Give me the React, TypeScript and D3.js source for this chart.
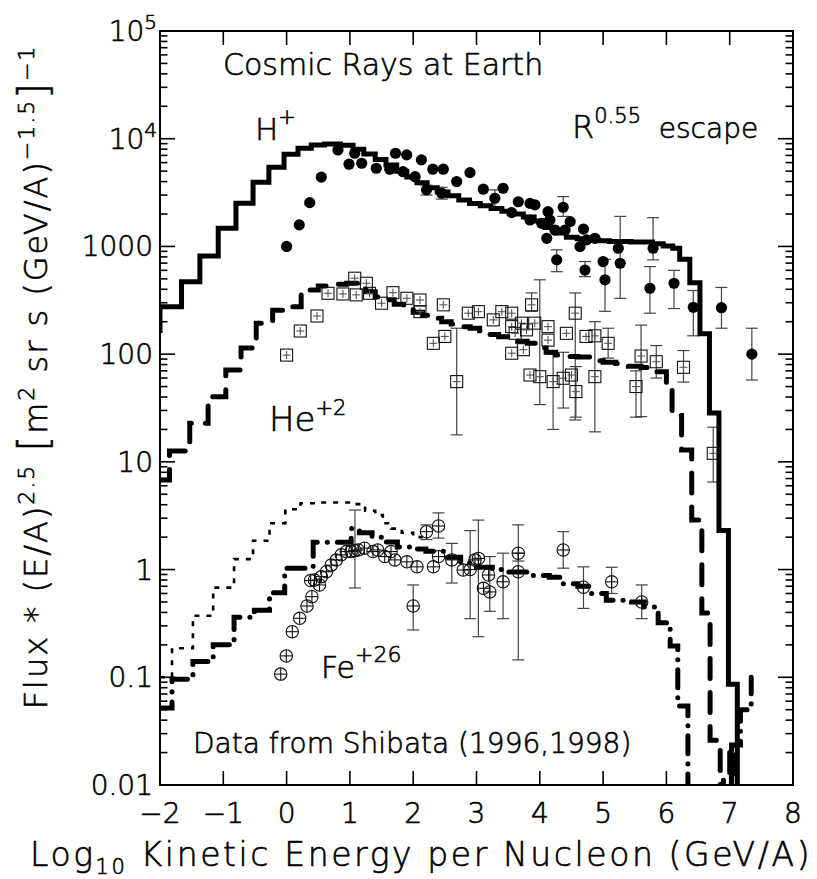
import * as d3 from 'd3'

type Step = [number, number]
type Pt = [number, number, number?, number?]

// model curves (log10 E/A, flux*E^2.5), drawn as step histograms
const hModel: Step[] = [
  [-2.0, 157], [-2.0, 276], [-1.66, 471], [-1.37, 817], [-1.08, 1476], [-0.8, 2518], [-0.53, 3947],
  [-0.28, 5433], [-0.04, 7180], [0.18, 8160], [0.39, 8750], [0.6, 8950], [0.85, 8700], [1.05, 8000],
  [1.22, 7200], [1.4, 6400], [1.57, 5700], [1.74, 5000], [1.9, 4400], [2.06, 3900], [2.22, 3500],
  [2.38, 3200], [2.55, 2950], [2.72, 2700], [2.89, 2500], [3.06, 2380], [3.23, 2250], [3.4, 2120],
  [3.57, 2000], [3.74, 1880], [3.91, 1720], [4.08, 1500], [4.25, 1330], [4.42, 1220], [4.59, 1180],
  [4.76, 1150], [4.93, 1130], [5.1, 1110], [5.27, 1110], [5.44, 1100], [5.61, 1100], [5.78, 1060],
  [5.95, 1010], [6.1, 960], [6.21, 760], [6.37, 460], [6.53, 155], [6.68, 28.4], [6.83, 2.31],
  [6.98, 0.086], [7.12, 0.001],
]

const heModel: Step[] = [
  [-2.0, 6.8], [-1.85, 12.6], [-1.53, 22.8], [-1.24, 40.3], [-0.96, 71.3], [-0.72, 114], [-0.48, 194],
  [-0.22, 255], [0.0, 276], [0.23, 394], [0.5, 430], [0.7, 445], [0.95, 455], [1.12, 420], [1.25, 380],
  [1.4, 340], [1.55, 320], [1.7, 290], [1.85, 265], [2.0, 245], [2.15, 230], [2.3, 215], [2.45, 200],
  [2.6, 190], [2.75, 180], [2.9, 174], [3.05, 165], [3.2, 152], [3.35, 145], [3.5, 140], [3.65, 132],
  [3.8, 126], [3.95, 114], [4.1, 104], [4.25, 98], [4.4, 95], [4.6, 94], [4.8, 87], [5.0, 84],
  [5.2, 82], [5.4, 77], [5.6, 75], [5.82, 68.7], [6.0, 52], [6.09, 27], [6.24, 12.9], [6.4, 2.89],
  [6.56, 0.395], [6.69, 0.026], [6.85, 0.001], [6.9, 0.013], [7.0, 0.022], [7.05, 0.001],
]

const feModel: Step[] = [
  [-2.0, 0.052], [-1.81, 0.096], [-1.48, 0.14], [-1.16, 0.2], [-0.83, 0.36], [-0.51, 0.42],
  [-0.27, 0.61], [-0.03, 1.03], [0.42, 1.79], [1.02, 2.4], [1.15, 2.2], [1.35, 2.0], [1.55, 1.8],
  [1.75, 1.62], [1.95, 1.55], [2.2, 1.48], [2.5, 1.3], [2.75, 1.15], [3.0, 1.05], [3.25, 1.0],
  [3.5, 0.95], [3.8, 0.88], [4.15, 0.85], [4.35, 0.74], [4.6, 0.7], [4.8, 0.6], [5.05, 0.52],
  [5.45, 0.5], [5.65, 0.45], [5.87, 0.32], [6.06, 0.195], [6.18, 0.054], [6.34, 0.001],
  [7.03, 0.0235], [7.17, 0.05], [7.34, 0.1],
]

// thin dotted Fe curve
const feDotted: Step[] = [
  [-2.0, 0.1], [-1.81, 0.186], [-1.48, 0.373], [-1.16, 0.68], [-0.83, 1.25], [-0.53, 1.85],
  [-0.27, 2.69], [-0.02, 3.63], [0.22, 4.13], [0.45, 4.2], [0.8, 4.2], [1.05, 4.05], [1.24, 3.52],
  [1.4, 3.21], [1.52, 2.69], [1.65, 2.4], [1.82, 2.2], [2.0, 2.0], [2.15, 2.0],
]

// Shibata data: [x, y, errLow, errHigh]
const hData: Pt[] = [
  [0.0, 1000], [0.2, 1585], [0.365, 2550], [0.548, 4400], [0.812, 7870], [0.986, 5800], [1.076, 7330],
  [1.186, 5920], [1.417, 5320], [1.63, 5210], [1.72, 7330], [1.84, 4940], [1.897, 7080], [2.03, 4440],
  [2.13, 6360], [2.21, 3350, 3000, 3700], [2.31, 5210], [2.45, 3120, 2750, 3540], [2.476, 5210],
  [2.687, 4000], [2.897, 4840], [3.108, 3400], [3.29, 2800, 2280, 3350], [3.42, 3470], [3.556, 2060],
  [3.66, 2600], [3.845, 2510], [3.924, 2430], [3.845, 1760], [4.03, 1640], [4.13, 2100], [4.16, 1760],
  [4.24, 1420], [4.11, 1190], [4.37, 2310, 1900, 2900], [4.4, 1420], [4.48, 1700], [4.69, 1450],
  [4.635, 995], [4.74, 1150], [4.87, 1190], [4.267, 750, 583, 930], [4.714, 603, 524, 724],
  [5.0, 724], [5.03, 490, 250, 760], [5.24, 962], [5.27, 698, 330, 1900], [5.79, 962, 750, 1850],
  [5.74, 409, 240, 650], [6.12, 455, 265, 600], [6.425, 272, 148, 390], [6.87, 270, 174, 416],
  [7.35, 100, 57.5, 174],
]

const heData: Pt[] = [
  [0.0, 98], [0.216, 164], [0.48, 226], [0.654, 367], [0.89, 362], [1.076, 507], [1.1, 355],
  [1.26, 455], [1.31, 367], [1.5, 297], [1.68, 372], [1.9, 330], [2.107, 318], [2.107, 248],
  [2.318, 126], [2.476, 287], [2.5, 146], [2.687, 55.6, 17.8, 174], [2.87, 240], [3.03, 248],
  [3.265, 208], [3.4, 248], [3.556, 240], [3.87, 287, 250, 370], [3.556, 180], [3.71, 194],
  [3.79, 168], [3.61, 156], [3.92, 194], [4.13, 180], [4.13, 135], [3.556, 102], [3.74, 110],
  [3.845, 64], [4.0, 61.8, 34, 490], [4.21, 55.6, 20, 100], [4.37, 59.7, 31.6, 104], [4.5, 64],
  [4.57, 44.9, 26, 76.6], [4.42, 156], [4.56, 240, 24.5, 370], [4.73, 146], [4.87, 61.8, 19, 200],
  [4.87, 148], [5.08, 126, 92, 174], [5.6, 96, 26.3, 186], [5.52, 50, 26, 70], [5.84, 85, 60, 120],
  [6.27, 75.5, 55, 108], [6.74, 12, 6.5, 21],
]

const feData: Pt[] = [
  [-0.093, 0.107], [-0.005, 0.158], [0.09, 0.265], [0.207, 0.353], [0.322, 0.459], [0.4, 0.56],
  [0.38, 0.79], [0.44, 0.8], [0.52, 0.72], [0.55, 0.86], [0.63, 0.955], [0.706, 1.1], [0.785, 1.23],
  [0.864, 1.37], [0.943, 1.47], [1.02, 1.47], [1.08, 1.5, 0.675, 3.57], [1.13, 1.52], [1.23, 1.58],
  [1.365, 1.47], [1.44, 1.52], [1.55, 1.32], [1.65, 1.47], [1.71, 1.23], [1.9, 1.18], [2.06, 1.06],
  [2.0, 0.459, 0.275, 0.72], [2.21, 2.25, 1.9, 2.6], [2.4, 2.54, 1.96, 3.36], [2.32, 1.06], [2.4, 1.32],
  [2.61, 1.23, 0.75, 1.75], [2.79, 0.99], [2.9, 1.0, 0.35, 2.3], [2.976, 1.23], [3.03, 1.27, 0.238, 2.88],
  [3.19, 0.89], [3.11, 0.67], [3.21, 0.62, 0.41, 1.32], [3.42, 0.77, 0.35, 1.42], [3.66, 1.42, 1.2, 2.6],
  [3.66, 0.955, 0.145, 1.42], [4.37, 1.52, 1.03, 2.25], [4.69, 0.686, 0.436, 1.06],
  [5.135, 0.77, 0.6, 1.05], [5.61, 0.5, 0.35, 0.72],
]

const xTicks = [-2, -1, 0, 1, 2, 3, 4, 5, 6, 7, 8]
const xTickLabels = ['\u22122', '\u22121', '0', '1', '2', '3', '4', '5', '6', '7', '8']
const yTicks = [0.01, 0.1, 1, 10, 100, 1000, 1e4, 1e5]
const yTickLabels = ['0.01', '0.1', '1', '10', '100', '1000', '10', '10']
const yTickSups = ['', '', '', '', '', '', '4', '5']

const FONT = '"DejaVu Sans", "Liberation Sans", sans-serif'

export default function App() {
  const x = d3.scaleLinear().domain([-2, 8]).range([160, 793])
  const y = d3.scaleLog().domain([0.01, 1e5]).range([785, 31])
  const [x0, x1] = x.range()
  const [y0, y1] = y.range()

  const step = d3.line<Step>()
    .x(d => x(d[0]))
    .y(d => y(Math.max(d[1], 1e-3)))
    .curve(d3.curveStepAfter)

  const minorTicks: number[] = []
  yTicks.slice(0, -1).forEach(t => {
    for (let k = 2; k <= 9; k++) minorTicks.push(t * k)
  })

  const errBar = (d: Pt, i: number) => {
    if (d[2] == null || d[3] == null) return null
    const cx = x(d[0]), lo = y(d[2]), hi = y(d[3])
    return (
      <g key={'e' + i} stroke="#444" strokeWidth={1.2}>
        <line x1={cx} x2={cx} y1={lo} y2={hi} />
        <line x1={cx - 6} x2={cx + 6} y1={lo} y2={lo} />
        <line x1={cx - 6} x2={cx + 6} y1={hi} y2={hi} />
      </g>
    )
  }

  return (
    <svg width={817} height={879} style={{ position: 'absolute', left: 0, top: 0, background: '#fff' }}
      fontFamily={FONT} fontWeight={200}>
      <defs>
        <clipPath id="plot">
          <rect x={x0} y={y1} width={x1 - x0} height={y0 - y1} />
        </clipPath>
      </defs>

      <g clipPath="url(#plot)">
        {[...hData, ...heData, ...feData].map(errBar)}

        <path d={step(feDotted)!} fill="none" stroke="#000" strokeWidth={2.6} strokeDasharray="5 7" />
        <path d={step(hModel)!} fill="none" stroke="#000" strokeWidth={5} strokeLinejoin="miter" />
        <path d={step(heModel)!} fill="none" stroke="#000" strokeWidth={5} strokeLinecap="round"
          strokeDasharray="20 14" />
        <path d={step(feModel)!} fill="none" stroke="#000" strokeWidth={5} strokeLinecap="round"
          strokeDasharray="18 10 0.1 10" />

        {hData.map((d, i) => (
          <circle key={'h' + i} cx={x(d[0])} cy={y(d[1])} r={5.6} fill="#000" />
        ))}
        {heData.map((d, i) => {
          const cx = x(d[0]), cy = y(d[1])
          return (
            <g key={'he' + i} stroke="#111" strokeWidth={1.1} fill="none">
              <rect x={cx - 6} y={cy - 6} width={12} height={12} />
              <line x1={cx - 4} x2={cx + 4} y1={cy} y2={cy} stroke="#555" />
              <line x1={cx} x2={cx} y1={cy - 4} y2={cy + 4} stroke="#555" />
            </g>
          )
        })}
        {feData.map((d, i) => {
          const cx = x(d[0]), cy = y(d[1])
          return (
            <g key={'fe' + i} stroke="#111" strokeWidth={1.1} fill="none">
              <circle cx={cx} cy={cy} r={6.2} />
              <line x1={cx - 6.2} x2={cx + 6.2} y1={cy} y2={cy} />
              <line x1={cx} x2={cx} y1={cy - 6.2} y2={cy + 6.2} />
            </g>
          )
        })}
      </g>

      {/* frame and ticks */}
      <rect x={x0} y={y1} width={x1 - x0} height={y0 - y1} fill="none" stroke="#000" strokeWidth={2} />
      <g stroke="#000" strokeWidth={1.6}>
        {xTicks.slice(1, -1).map(t => (
          <g key={'xt' + t}>
            <line x1={x(t)} x2={x(t)} y1={y0} y2={y0 - 14} />
            <line x1={x(t)} x2={x(t)} y1={y1} y2={y1 + 14} />
          </g>
        ))}
        {yTicks.map(t => (
          <g key={'yt' + t}>
            <line x1={x0} x2={x0 + 15} y1={y(t)} y2={y(t)} />
            <line x1={x1} x2={x1 - 15} y1={y(t)} y2={y(t)} />
          </g>
        ))}
        {minorTicks.map(t => (
          <g key={'ym' + t}>
            <line x1={x0} x2={x0 + 7.5} y1={y(t)} y2={y(t)} />
            <line x1={x1} x2={x1 - 7.5} y1={y(t)} y2={y(t)} />
          </g>
        ))}
      </g>

      <g fill="#000" stroke="#000" strokeWidth={0.6}>
        {/* tick labels */}
        <g fontSize={28}>
          {xTicks.map((t, i) => (
            <text key={'xl' + t} x={x(t)} y={823} textAnchor="middle">{xTickLabels[i]}</text>
          ))}
          {yTicks.map((t, i) => yTickSups[i] ? (
            <text key={'yl' + t} x={157} y={y(t) + 10} textAnchor="end">
              {yTickLabels[i]}<tspan fontSize={20} dy={-12}>{yTickSups[i]}</tspan>
            </text>
          ) : (
            <text key={'yl' + t} x={153} y={y(t) + 10} textAnchor="end">{yTickLabels[i]}</text>
          ))}
        </g>

        {/* axis titles */}
        <text x={30} y={866} fontSize={33} letterSpacing={2.6}>
          Log<tspan fontSize={21} dy={8}>10</tspan><tspan dy={-8}> Kinetic Energy per Nucleon (GeV/A)</tspan>
        </text>
        <text transform="translate(47,377) rotate(-90)" textAnchor="middle" fontSize={32} letterSpacing={2}>
          Flux * (E/A)<tspan fontSize={22} dy={-13}>2.5</tspan>
          <tspan dy={13}> </tspan><tspan fontSize={40}>[</tspan><tspan>m</tspan>
          <tspan fontSize={22} dy={-13}>2</tspan><tspan dy={13}> sr s (GeV/A)</tspan>
          <tspan fontSize={22} dy={-13}>{'\u22121.5'}</tspan><tspan dy={13} fontSize={40}>]</tspan>
          <tspan fontSize={22} dy={-13}>{'\u22121'}</tspan>
        </text>

        {/* annotations */}
        <text x={223} y={75} fontSize={30}>Cosmic Rays at Earth</text>
        <text x={255} y={140} fontSize={31}>H<tspan fontSize={21} dy={-16}>+</tspan></text>
        <text x={572} y={138} fontSize={32}>R<tspan fontSize={21} dy={-15}>0.55</tspan>
          <tspan dy={15} fontSize={28}>{'\u00a0\u00a0escape'}</tspan></text>
        <text x={269} y={431} fontSize={34}>He<tspan fontSize={21} dy={-16}>+2</tspan></text>
        <text x={321} y={678} fontSize={30}>Fe<tspan fontSize={22} dy={-16}>+26</tspan></text>
        <text x={193} y={753} fontSize={28}>Data from Shibata (1996,1998)</text>
      </g>
    </svg>
  )
}
